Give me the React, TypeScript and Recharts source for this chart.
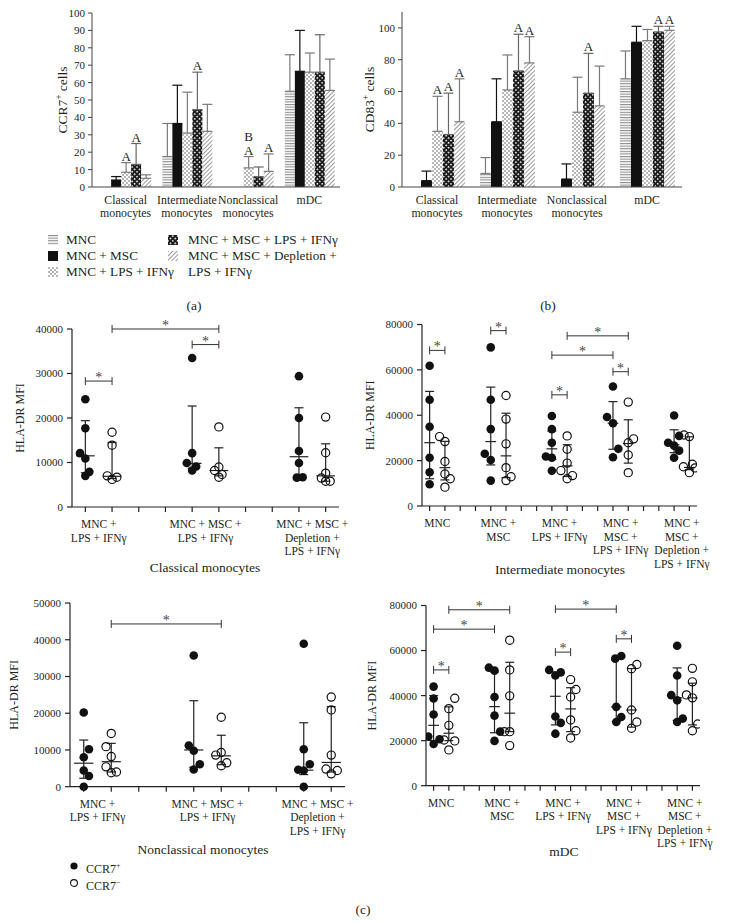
import React from "react";
import { Bar, BarChart, ErrorBar, ReferenceLine, Scatter, ScatterChart, XAxis, YAxis } from "recharts";

const FONT = '"Liberation Serif", "DejaVu Serif", serif';
const INK = "#231f20";

// ---- (a) / (b) bar panels ----
const barCategories = ["Classical\nmonocytes", "Intermediate\nmonocytes", "Nonclassical\nmonocytes", "mDC"];
const treatments = ["MNC", "MNC + MSC", "MNC + LPS + IFNγ", "MNC + MSC + LPS + IFNγ", "MNC + MSC + Depletion + LPS + IFNγ"];

// rows = treatments, columns = categories
const ccr7Mean = [
  [0, 17.5, 0, 55],
  [4, 36.5, 0, 66.5],
  [8.5, 31, 11, 66],
  [13, 44.5, 6, 66],
  [5, 32, 9, 55.5],
];
const ccr7Sd = [
  [0, 19, 0, 21],
  [2, 22, 0, 23.5],
  [5.5, 23.5, 6.5, 11],
  [12, 21.5, 5.5, 21.5],
  [2, 15.5, 10, 18],
];
const ccr7Letters = [
  ["", "", "", ""],
  ["", "", "", ""],
  ["A", "", "BA", ""],
  ["A", "A", "", ""],
  ["", "", "A", ""],
];

const cd83Mean = [
  [0, 8.5, 0, 68],
  [4, 41, 5, 91],
  [35, 61, 47, 92],
  [33, 73, 59, 97.5],
  [41, 78, 51, 98.5],
];
const cd83Sd = [
  [0, 10, 0, 17.5],
  [6, 27, 9.5, 10],
  [22, 22, 22, 7],
  [26, 23, 25, 3.5],
  [27, 16.5, 25, 2.5],
];
const cd83Letters = [
  ["", "", "", ""],
  ["", "", "", ""],
  ["A", "", "", ""],
  ["A", "A", "A", "A"],
  ["A", "A", "", "A"],
];

const barFills = ["url(#pMnc)", "#111", "url(#pLps)", "url(#pMscLps)", "url(#pDepl)"];
const errColors = ["#7a7a7a", "#111", "#7a7a7a", "#666", "#7a7a7a"];

// ---- (c) scatter panels ----
const classicalLabels = [["MNC +", "LPS + IFNγ"], ["MNC + MSC +", "LPS + IFNγ"], ["MNC + MSC +", "Depletion +", "LPS + IFNγ"]];
const fiveLabels = [
  ["MNC"],
  ["MNC +", "MSC"],
  ["MNC +", "LPS + IFNγ"],
  ["MNC +", "MSC +", "LPS + IFNγ"],
  ["MNC +", "MSC +", "Depletion +", "LPS + IFNγ"],
];

const classicalPos = [
  [24200, 17700, 12100, 10900, 7000, 7900],
  [33500, 12100, 9900, 9100, 8200],
  [29400, 20000, 12600, 9900, 6600, 6700],
];
const classicalPosJitter = [
  [0, 0, -0.2, 0, 0, 0.15],
  [0, 0, -0.2, 0.15, 0],
  [0, 0, 0, 0, -0.08, 0.14],
];
const classicalNeg = [
  [16800, 13900, 7000, 6200, 6700],
  [18000, 9000, 8200, 7300, 6700],
  [20200, 12200, 7600, 6500, 5800, 5800],
];
const classicalNegJitter = [
  [0, 0, -0.18, 0, 0.18],
  [0, 0, -0.16, 0.12, 0],
  [0, 0, 0, -0.16, 0, 0.17],
];
const classicalPosStats = [[11500, 7700, 19400], [9800, 8700, 22700], [11300, 6700, 22300]];
const classicalNegStats = [[6900, 6400, 14500], [8200, 7000, 13300], [7000, 5800, 14200]];
const classicalBrackets = [[0, 1, 28300], [1, 5, 40000], [4, 5, 36500]];

const intermediatePos = [
  [61800, 46800, 34900, 21300, 14900, 9600],
  [69900, 46800, 33900, 23000, 20300, 11200],
  [39700, 33900, 27900, 21800, 21300, 15500],
  [52700, 39200, 36500, 25200, 21500],
  [39900, 30900, 27900, 26600, 24400, 21300],
];
const intermediatePosJitter = [
  [0, 0, 0, 0, 0, 0],
  [0, 0, 0, -0.39, 0, 0],
  [0, 0, 0, -0.39, 0, 0],
  [0, -0.39, 0, 0.35, 0],
  [0, 0.33, -0.39, 0, 0.33, 0],
];
const intermediateNeg = [
  [30600, 28400, 19600, 14100, 12000, 8300],
  [48700, 38300, 27400, 16900, 12900, 11200],
  [30900, 25000, 18900, 15600, 13400, 12000],
  [45800, 29600, 27900, 22500, 14700],
  [31300, 30600, 18400, 17300, 16800, 14700],
];
const intermediateNegJitter = [
  [-0.35, 0, 0, 0, 0.35, 0],
  [0, 0, 0, 0, 0.33, 0],
  [0, 0, 0, -0.41, 0.35, 0],
  [0, 0.35, 0, 0, 0],
  [-0.35, 0, 0.2, -0.39, 0.37, 0],
];
const intermediatePosStats = [[27900, 12000, 50500], [28400, 18100, 52400], [25200, 20500, 33000], [36500, 25000, 46000], [27000, 23500, 33600]];
const intermediateNegStats = [[16900, 11500, 28500], [22100, 12500, 40900], [17700, 13000, 27000], [27500, 18900, 38000], [17000, 16000, 30500]];
const intermediateBrackets = [[0, 1, 68600], [4, 5, 77300], [9, 13, 75000], [8, 12, 66500], [12, 13, 59200], [8, 9, 49000]];

const nonclassicalPos = [
  [20200, 10200, 8000, 4400, 2900, 0],
  [35700, 11200, 9800, 6100, 4700],
  [38900, 10200, 6100, 4600, 4400, 0],
];
const nonclassicalPosJitter = [
  [0, 0.19, 0, 0, 0.19, 0],
  [0, -0.18, 0, 0.22, 0],
  [0, 0, 0.22, -0.2, 0, 0],
];
const nonclassicalNeg = [
  [14500, 10900, 8200, 5400, 4000, 3800],
  [18900, 9300, 8600, 6500, 5700],
  [24400, 20900, 8600, 4800, 4400, 3500],
];
const nonclassicalNegJitter = [
  [0, -0.19, 0, -0.19, 0.19, 0],
  [0, 0, -0.2, 0.2, 0],
  [0, 0, 0, -0.19, 0.22, 0],
];
const nonclassicalPosStats = [[6400, 2300, 12700], [10000, 5300, 23400], [4500, 3300, 17400]];
const nonclassicalNegStats = [[6800, 4000, 11800], [8400, 6000, 14000], [6600, 4000, 21800]];
const nonclassicalBrackets = [[1, 5, 44300]];

const mdcPos = [
  [44000, 38700, 31600, 21800, 20600, 18500],
  [52400, 51100, 39400, 31100, 24000, 19900],
  [51400, 48900, 50300, 30700, 27900, 23100],
  [56400, 57600, 35000, 30500, 28300],
  [62100, 48900, 40200, 37900, 29800, 28300],
];
const mdcPosJitter = [
  [0, 0, 0, -0.35, 0.39, 0],
  [-0.37, 0, 0, 0, 0.37, 0],
  [-0.41, 0, 0.35, 0, 0.35, 0],
  [-0.07, 0.33, 0, 0.33, 0],
  [0, 0, -0.39, 0, 0.37, 0],
];
const mdcNeg = [
  [38800, 34200, 26800, 20300, 19900, 15900],
  [64600, 51400, 39900, 24000, 24000, 17800],
  [47100, 42700, 39400, 29200, 24400, 21200],
  [53800, 51900, 33600, 28300, 25500],
  [52100, 46100, 40300, 39000, 27400, 24400],
];
const mdcNegJitter = [
  [0.39, 0, 0, -0.31, 0.39, 0],
  [0, 0, 0, -0.35, 0, 0],
  [0, 0.35, 0, 0, 0.35, 0],
  [0.35, 0, 0, 0.35, 0],
  [0, 0, -0.39, 0, 0.35, 0],
];
const mdcPosStats = [[26800, 20000, 40000], [35100, 23500, 50500], [39700, 27000, 50500], [35000, 28500, 56500], [39000, 29000, 52300]];
const mdcNegStats = [[23300, 20000, 35000], [32200, 24000, 54800], [34100, 24000, 43500], [33600, 26000, 52000], [39000, 27000, 45500]];
const mdcBrackets = [[0, 1, 51400], [0, 4, 69500], [1, 5, 78100], [8, 9, 59300], [8, 12, 78400], [12, 13, 65200]];

const yTitle = (main: string, sup: string, rest: string, cxOff: number, fontSize: number) => (p: any) => {
  const vb = p.viewBox || {};
  const x = (vb.x ?? 0) + cxOff;
  const y = (vb.y ?? 0) + (vb.height ?? 0) / 2;
  return (
    <text transform={`translate(${x},${y}) rotate(-90)`} textAnchor="middle" fontSize={fontSize} fill={INK}>
      {main}
      {sup ? (
        <tspan baselineShift="super" fontSize={fontSize * 0.7}>
          {sup}
        </tspan>
      ) : null}
      {rest}
    </text>
  );
};

const starLabel = (p: any) => {
  const vb = p.viewBox || {};
  return (
    <text
      x={(vb.x ?? 0) + (vb.width ?? 0) / 2}
      y={(vb.y ?? 0) + 1}
      textAnchor="middle"
      fontSize={14}
      fill="#444"
      opacity={0.99}
    >
      *
    </text>
  );
};

function barRows(means: number[][], sds: number[][], letters: string[][]) {
  return barCategories.map((name, c) => {
    const row: Record<string, any> = { name };
    means.forEach((m, s) => {
      row[`v${s}`] = m[c];
      row[`sd${s}`] = sds[s][c];
      row[`e${s}`] = sds[s][c] ? [0, sds[s][c]] : null;
      row[`l${s}`] = letters[s][c];
    });
    return row;
  });
}

const barShape = (s: number) => (p: any) => {
  const { x, y, width, height, fill, payload } = p;
  const v = payload[`v${s}`];
  const letters: string[] = (payload[`l${s}`] || "").split("");
  const top = v > 0 && height > 0 ? y - (payload[`sd${s}`] * height) / v : y;
  const cx = x + width / 2;
  return (
    <g>
      {height > 0 ? <rect x={x} y={y} width={width} height={height} fill={fill} /> : null}
      {letters.length ? (
        <text x={cx} y={top - 2 - (letters.length - 1) * 13.5} textAnchor="middle" fontSize={13} fill={INK}>
          {letters.map((ch, k) => (
            <tspan key={k} x={cx} dy={k ? 13.5 : 0}>
              {ch}
            </tspan>
          ))}
        </text>
      ) : null}
    </g>
  );
};

const BarTick = (p: any) => {
  const lines = String(p.payload.value).split("\n");
  return (
    <text x={p.x} y={p.y + 16.5} textAnchor="middle" fontSize={11.8} fill={INK}>
      {lines.map((l, i) => (
        <tspan key={i} x={p.x} dy={i ? 13 : 0}>
          {l}
        </tspan>
      ))}
    </text>
  );
};

function BarPanel(props: any) {
  const { rows, yMax, yTicks, yAxisWidth, marginTop, marginRight, gap, padLeft, title } = props;
  return (
    <BarChart
      width={350}
      height={230}
      data={rows}
      margin={{ top: marginTop, right: marginRight, bottom: 0, left: 0 }}
      barGap={0}
      barCategoryGap={gap}
    >
      <XAxis
        dataKey="name"
        interval={0}
        height={43}
        tickLine={false}
        tickSize={0}
        tickMargin={0}
        axisLine={{ stroke: "#444" }}
        padding={{ left: padLeft, right: 0 }}
        tick={(p: any) => <BarTick {...p} />}
      />
      <YAxis
        type="number"
        domain={[0, yMax]}
        ticks={yTicks}
        interval={0}
        width={yAxisWidth}
        tickSize={4}
        tickMargin={3}
        axisLine={{ stroke: "#444" }}
        tickLine={{ stroke: "#444" }}
        tick={{ fontSize: 11, fill: INK }}
        label={{ content: title }}
      />
      {treatments.map((t, s) => (
        <Bar key={t} dataKey={`v${s}`} name={t} fill={barFills[s]} isAnimationActive={false} shape={barShape(s)}>
          <ErrorBar dataKey={`e${s}`} direction="y" width={5} stroke={errColors[s]} strokeWidth={1.2} />
        </Bar>
      ))}
    </BarChart>
  );
}

function ScatterPanel(props: any) {
  const {
    width, height, yAxisWidth, marginTop, marginRight, xAxisHeight, yMax, yTicks, labels,
    pos, posJit, neg, negJit, posStats, negStats, brackets, title,
  } = props;
  const nTicks = labels.length * 4 - 2;
  const plotW = width - marginRight - yAxisWidth;
  const plotH = height - marginTop - xAxisHeight;
  const unitPx = plotW / nTicks;
  const cap = 4.5 / unitPx;
  const med = 0.35;
  const dy = (4 * yMax) / plotH;
  const ticks = [...Array.from({ length: nTicks }, (_, i) => i), ...labels.map((_: any, g: number) => g * 4 + 0.5)];

  const posData = pos.flatMap((vals: number[], g: number) => vals.map((v, k) => ({ x: g * 4 + posJit[g][k], y: v })));
  const negData = neg.flatMap((vals: number[], g: number) => vals.map((v, k) => ({ x: g * 4 + 1 + negJit[g][k], y: v })));

  const lineStyle = { stroke: "#222", strokeWidth: 1.2, ifOverflow: "visible" as const };
  const statLines = (stats: number[][], side: number) =>
    stats.flatMap(([m, q1, q3], g) => {
      const cx = g * 4 + side;
      return [
        <ReferenceLine key={`s${side}-${g}-v`} segment={[{ x: cx, y: q1 }, { x: cx, y: q3 }]} {...lineStyle} />,
        <ReferenceLine key={`s${side}-${g}-l`} segment={[{ x: cx - cap, y: q1 }, { x: cx + cap, y: q1 }]} {...lineStyle} />,
        <ReferenceLine key={`s${side}-${g}-h`} segment={[{ x: cx - cap, y: q3 }, { x: cx + cap, y: q3 }]} {...lineStyle} />,
        <ReferenceLine key={`s${side}-${g}-m`} segment={[{ x: cx - med, y: m }, { x: cx + med, y: m }]} {...lineStyle} />,
      ];
    });

  const bracketLines = brackets.flatMap(([a, b, yv]: number[], i: number) => [
    <ReferenceLine
      key={`b${i}`}
      segment={[{ x: a, y: yv }, { x: b, y: yv }]}
      stroke="#333"
      strokeWidth={1}
      ifOverflow="visible"
      label={{ content: starLabel }}
    />,
    <ReferenceLine key={`b${i}a`} segment={[{ x: a, y: yv - dy }, { x: a, y: yv + dy }]} stroke="#333" strokeWidth={1} ifOverflow="visible" />,
    <ReferenceLine key={`b${i}b`} segment={[{ x: b, y: yv - dy }, { x: b, y: yv + dy }]} stroke="#333" strokeWidth={1} ifOverflow="visible" />,
  ]);

  const ScatterTick = (p: any) => {
    const v = p.payload.value;
    if (Number.isInteger(v)) return <line x1={p.x} x2={p.x} y1={p.y - 5} y2={p.y} stroke="#222" strokeWidth={1.2} />;
    const lines: string[] = labels[Math.round((v - 0.5) / 4)];
    return (
      <text x={p.x} y={p.y + 16} textAnchor="middle" fontSize={11.5} fill={INK}>
        {lines.map((l, i) => (
          <tspan key={i} x={p.x} dy={i ? 13.5 : 0}>
            {l}
          </tspan>
        ))}
      </text>
    );
  };

  return (
    <ScatterChart width={width} height={height} margin={{ top: marginTop, right: marginRight, bottom: 0, left: 0 }}>
      <XAxis
        type="number"
        dataKey="x"
        domain={[-0.5, nTicks - 0.5]}
        ticks={ticks}
        interval={0}
        height={xAxisHeight}
        tickLine={false}
        tickSize={5}
        tickMargin={0}
        allowDataOverflow
        axisLine={{ stroke: "#222", strokeWidth: 1.2 }}
        tick={(p: any) => <ScatterTick {...p} />}
      />
      <YAxis
        type="number"
        dataKey="y"
        domain={[0, yMax]}
        ticks={yTicks}
        interval={0}
        width={yAxisWidth}
        tickSize={5}
        tickMargin={4}
        axisLine={{ stroke: "#222", strokeWidth: 1.2 }}
        tickLine={{ stroke: "#222", strokeWidth: 1.2 }}
        tick={{ fontSize: 11, fill: INK }}
        label={{ content: title }}
      />
      {statLines(posStats, 0)}
      {statLines(negStats, 1)}
      {bracketLines}
      <Scatter
        name="CCR7+"
        data={posData}
        isAnimationActive={false}
        shape={(p: any) => <circle cx={p.cx} cy={p.cy} r={4.3} fill="#111" />}
      />
      <Scatter
        name="CCR7-"
        data={negData}
        isAnimationActive={false}
        shape={(p: any) => <circle cx={p.cx} cy={p.cy} r={4.1} fill="none" stroke="#111" strokeWidth={1.2} />}
      />
    </ScatterChart>
  );
}

const abs = (left: number, top: number, extra: React.CSSProperties = {}): React.CSSProperties => ({
  position: "absolute",
  left,
  top,
  ...extra,
});

function Caption({ cx, cy, text, size = 13.5 }: { cx: number; cy: number; text: string; size?: number }) {
  return (
    <div style={abs(cx - 150, cy - 9, { width: 300, textAlign: "center", fontSize: size, lineHeight: "18px" })}>{text}</div>
  );
}

function Swatch({ fill }: { fill: string }) {
  return (
    <svg width={10} height={10} style={{ display: "block" }}>
      <rect width={10} height={10} fill={fill} />
    </svg>
  );
}

export default function App() {
  const ccr7Rows = barRows(ccr7Mean, ccr7Sd, ccr7Letters);
  const cd83Rows = barRows(cd83Mean, cd83Sd, cd83Letters);
  const legendLeft = [0, 1, 2];

  return (
    <div style={abs(0, 0, { width: 730, height: 923, background: "#fff", fontFamily: FONT, color: INK, overflow: "hidden" })}>
      <svg width={0} height={0} style={{ position: "absolute" }}>
        <defs>
          <pattern id="pMnc" width={4} height={2.6} patternUnits="userSpaceOnUse">
            <rect width={4} height={2.6} fill="#fff" />
            <rect width={4} height={1.1} fill="#8c8c8c" />
          </pattern>
          <pattern id="pLps" width={4} height={4} patternUnits="userSpaceOnUse">
            <rect width={4} height={4} fill="#fff" />
            <rect width={2} height={2} fill="#b8b8b8" />
            <rect x={2} y={2} width={2} height={2} fill="#b8b8b8" />
          </pattern>
          <pattern id="pMscLps" width={3.4} height={3.4} patternUnits="userSpaceOnUse" patternTransform="rotate(45)">
            <rect width={3.4} height={3.4} fill="#1a1a1a" />
            <rect width={1.5} height={1.5} fill="#fff" />
          </pattern>
          <pattern id="pDepl" width={3} height={3} patternUnits="userSpaceOnUse" patternTransform="rotate(45)">
            <rect width={3} height={3} fill="#fff" />
            <rect width={1} height={3} fill="#9a9a9a" />
          </pattern>
        </defs>
      </svg>

      <div style={abs(0, 0)}>
        <BarPanel
          rows={ccr7Rows}
          yMax={100}
          yTicks={[0, 10, 20, 30, 40, 50, 60, 70, 80, 90, 100]}
          yAxisWidth={92}
          marginTop={13}
          marginRight={10}
          gap="10%"
          padLeft={3}
          title={yTitle("CCR7", "+", " cells", 66.5, 13.5)}
        />
      </div>
      <div style={abs(350, 0)}>
        <BarPanel
          rows={cd83Rows}
          yMax={110}
          yTicks={[0, 20, 40, 60, 80, 100]}
          yAxisWidth={52}
          marginTop={12}
          marginRight={18}
          gap="11.4%"
          padLeft={0}
          title={yTitle("CD83", "+", " cells", 23.5, 13.5)}
        />
      </div>

      {legendLeft.map((s, r) => (
        <React.Fragment key={s}>
          <div style={abs(48, 235 + r * 16)}>
            <Swatch fill={barFills[s]} />
          </div>
          <div style={abs(66, 231.5 + r * 16, { fontSize: 13.2, lineHeight: "16px", whiteSpace: "nowrap" })}>{treatments[s]}</div>
        </React.Fragment>
      ))}
      {[3, 4].map((s, r) => (
        <React.Fragment key={s}>
          <div style={abs(168, 235 + r * 16)}>
            <Swatch fill={barFills[s]} />
          </div>
          <div style={abs(188, 231.5 + r * 16, { fontSize: 13.2, lineHeight: "16px", width: 165 })}>{treatments[s]}</div>
        </React.Fragment>
      ))}
      <Caption cx={194} cy={306} text="(a)" />
      <Caption cx={548} cy={306} text="(b)" />

      <div style={abs(0, 310)}>
        <ScatterPanel
          width={365} height={260} yAxisWidth={72} marginTop={19} marginRight={26} xAxisHeight={63}
          yMax={40000} yTicks={[0, 10000, 20000, 30000, 40000]} labels={classicalLabels}
          pos={classicalPos} posJit={classicalPosJitter} neg={classicalNeg} negJit={classicalNegJitter}
          posStats={classicalPosStats} negStats={classicalNegStats} brackets={classicalBrackets}
          title={yTitle("HLA-DR MFI", "", "", 24, 12)}
        />
      </div>
      <Caption cx={205} cy={568} text="Classical monocytes" />

      <div style={abs(350, 310)}>
        <ScatterPanel
          width={380} height={260} yAxisWidth={72} marginTop={14.5} marginRight={33} xAxisHeight={64}
          yMax={80000} yTicks={[0, 20000, 40000, 60000, 80000]} labels={fiveLabels}
          pos={intermediatePos} posJit={intermediatePosJitter} neg={intermediateNeg} negJit={intermediateNegJitter}
          posStats={intermediatePosStats} negStats={intermediateNegStats} brackets={intermediateBrackets}
          title={yTitle("HLA-DR MFI", "", "", 24, 12)}
        />
      </div>
      <Caption cx={560} cy={570} text="Intermediate monocytes" />

      <div style={abs(0, 590)}>
        <ScatterPanel
          width={365} height={260} yAxisWidth={70} marginTop={13} marginRight={20} xAxisHeight={63.3}
          yMax={50000} yTicks={[0, 10000, 20000, 30000, 40000, 50000]} labels={classicalLabels}
          pos={nonclassicalPos} posJit={nonclassicalPosJitter} neg={nonclassicalNeg} negJit={nonclassicalNegJitter}
          posStats={nonclassicalPosStats} negStats={nonclassicalNegStats} brackets={nonclassicalBrackets}
          title={yTitle("HLA-DR MFI", "", "", 18, 12)}
        />
      </div>
      <Caption cx={203} cy={850} text="Nonclassical monocytes" />

      <div style={abs(350, 590)}>
        <ScatterPanel
          width={380} height={260} yAxisWidth={76} marginTop={15.5} marginRight={30} xAxisHeight={64.3}
          yMax={80000} yTicks={[0, 20000, 40000, 60000, 80000]} labels={fiveLabels}
          pos={mdcPos} posJit={mdcPosJitter} neg={mdcNeg} negJit={mdcNegJitter}
          posStats={mdcPosStats} negStats={mdcNegStats} brackets={mdcBrackets}
          title={yTitle("HLA-DR MFI", "", "", 26, 12)}
        />
      </div>
      <Caption cx={564} cy={852} text="mDC" />

      <svg width={10} height={30} style={abs(69, 861)}>
        <circle cx={5} cy={5} r={3.6} fill="#111" />
        <circle cx={5} cy={22} r={3.4} fill="none" stroke="#111" strokeWidth={1.1} />
      </svg>
      <div style={abs(86, 858, { fontSize: 12, lineHeight: "16px" })}>
        CCR7<sup style={{ fontSize: 8, verticalAlign: "5px" }}>+</sup>
      </div>
      <div style={abs(86, 875, { fontSize: 12, lineHeight: "16px" })}>
        CCR7<sup style={{ fontSize: 8, verticalAlign: "5px" }}>−</sup>
      </div>
      <Caption cx={363} cy={910} text="(c)" />
    </div>
  );
}
